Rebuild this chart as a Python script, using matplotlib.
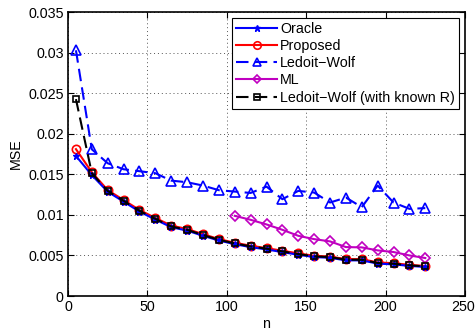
import matplotlib
matplotlib.use("Agg")
import matplotlib.pyplot as plt
import matplotlib.transforms as mtransforms

plt.rcParams['font.family'] = ['Liberation Sans', 'DejaVu Sans']

n_all = [5, 15, 25, 35, 45, 55, 65, 75, 85, 95, 105, 115, 125, 135, 145, 155,
         165, 175, 185, 195, 205, 215, 225]
n_ml = [105, 115, 125, 135, 145, 155, 165, 175, 185, 195, 205, 215, 225]

oracle = [0.01726, 0.01490, 0.01285, 0.01163, 0.01040, 0.00942, 0.00848, 0.00806,
          0.00742, 0.00684, 0.00639, 0.00602, 0.00574, 0.00541, 0.00508, 0.00480,
          0.00471, 0.00439, 0.00439, 0.00399, 0.00390, 0.00371, 0.00358]
proposed = [0.01810, 0.01525, 0.01305, 0.01183, 0.01060, 0.00962, 0.00868, 0.00826,
            0.00762, 0.00702, 0.00656, 0.00620, 0.00590, 0.00558, 0.00525, 0.00496,
            0.00486, 0.00455, 0.00454, 0.00414, 0.00404, 0.00384, 0.00370]
lw = [0.03028, 0.01808, 0.01636, 0.01562, 0.01538, 0.01513, 0.01422, 0.01402,
      0.01361, 0.01304, 0.01287, 0.01270, 0.01348, 0.01193, 0.01295, 0.01275,
      0.01152, 0.01213, 0.01095, 0.01361, 0.01152, 0.01074, 0.01083]
ml = [0.00988, 0.00939, 0.00882, 0.00816, 0.00742, 0.00701, 0.00673, 0.00603,
      0.00599, 0.00562, 0.00542, 0.00500, 0.00468]
lw_known = [0.02426, 0.01513, 0.01295, 0.01173, 0.01050, 0.00951, 0.00857, 0.00816,
            0.00751, 0.00693, 0.00648, 0.00611, 0.00583, 0.00550, 0.00517, 0.00488,
            0.00480, 0.00447, 0.00447, 0.00407, 0.00398, 0.00378, 0.00365]

fig = plt.figure(figsize=(4.76, 3.32), dpi=100)
ax = fig.add_axes([68/476, 1 - 296/332, (465-68)/476, (296-12)/332])

fs = 10.3
ax.plot(n_all, oracle, '-', color='blue', marker='*', ms=5, lw=1.5, label='Oracle', zorder=3)
ax.plot(n_all, proposed, '-', color='red', marker='o', mfc='none', ms=6, mew=1.2, lw=1.5, label='Proposed', zorder=2)
ax.plot(n_all, lw, '--', color='blue', marker='^', mfc='none', ms=7, mew=1.2, lw=1.5, label='Ledoit\u2212Wolf', dashes=(6, 3), zorder=2)
ax.plot(n_ml, ml, '-', color='#c000c0', marker='D', mfc='none', ms=5, mew=1.2, lw=1.5, label='ML', zorder=2)
ax.plot(n_all, lw_known, '--', color='black', marker='s', mfc='none', ms=5, mew=1.2, lw=1.5, label='Ledoit\u2212Wolf (with known R)', dashes=(6, 3), zorder=4)

ax.set_xlim(0, 250)
ax.set_ylim(0, 0.035)
ax.set_xticks([0, 50, 100, 150, 200, 250])
ax.set_yticks([0, 0.005, 0.01, 0.015, 0.02, 0.025, 0.03, 0.035])
ax.set_yticklabels(['0', '0.005', '0.01', '0.015', '0.02', '0.025', '0.03', '0.035'])
ax.grid(True, linestyle=(0, (1, 3)), color='#555555', lw=0.7)
ax.tick_params(direction='in', top=True, right=True, labelsize=fs, length=4, pad=3)
for s in ax.spines.values():
    s.set_linewidth(1.2)
ax.set_xlabel('n', fontsize=fs, labelpad=2)
ax.set_ylabel('MSE', fontsize=fs, labelpad=4)

# keep the last x tick label inside the figure
last = ax.get_xticklabels()[-1]
last.set_transform(last.get_transform() + mtransforms.ScaledTranslation(-2/100, 0, fig.dpi_scale_trans))

leg = ax.legend(loc='upper right', fontsize=fs, handlelength=2.8, handletextpad=0.25,
                labelspacing=0.22, borderpad=0.3, fancybox=False, edgecolor='black',
                framealpha=1, markerscale=0.9, borderaxespad=0.4)
leg.get_frame().set_linewidth(0.8)

fig.savefig('out.png', dpi=100)
